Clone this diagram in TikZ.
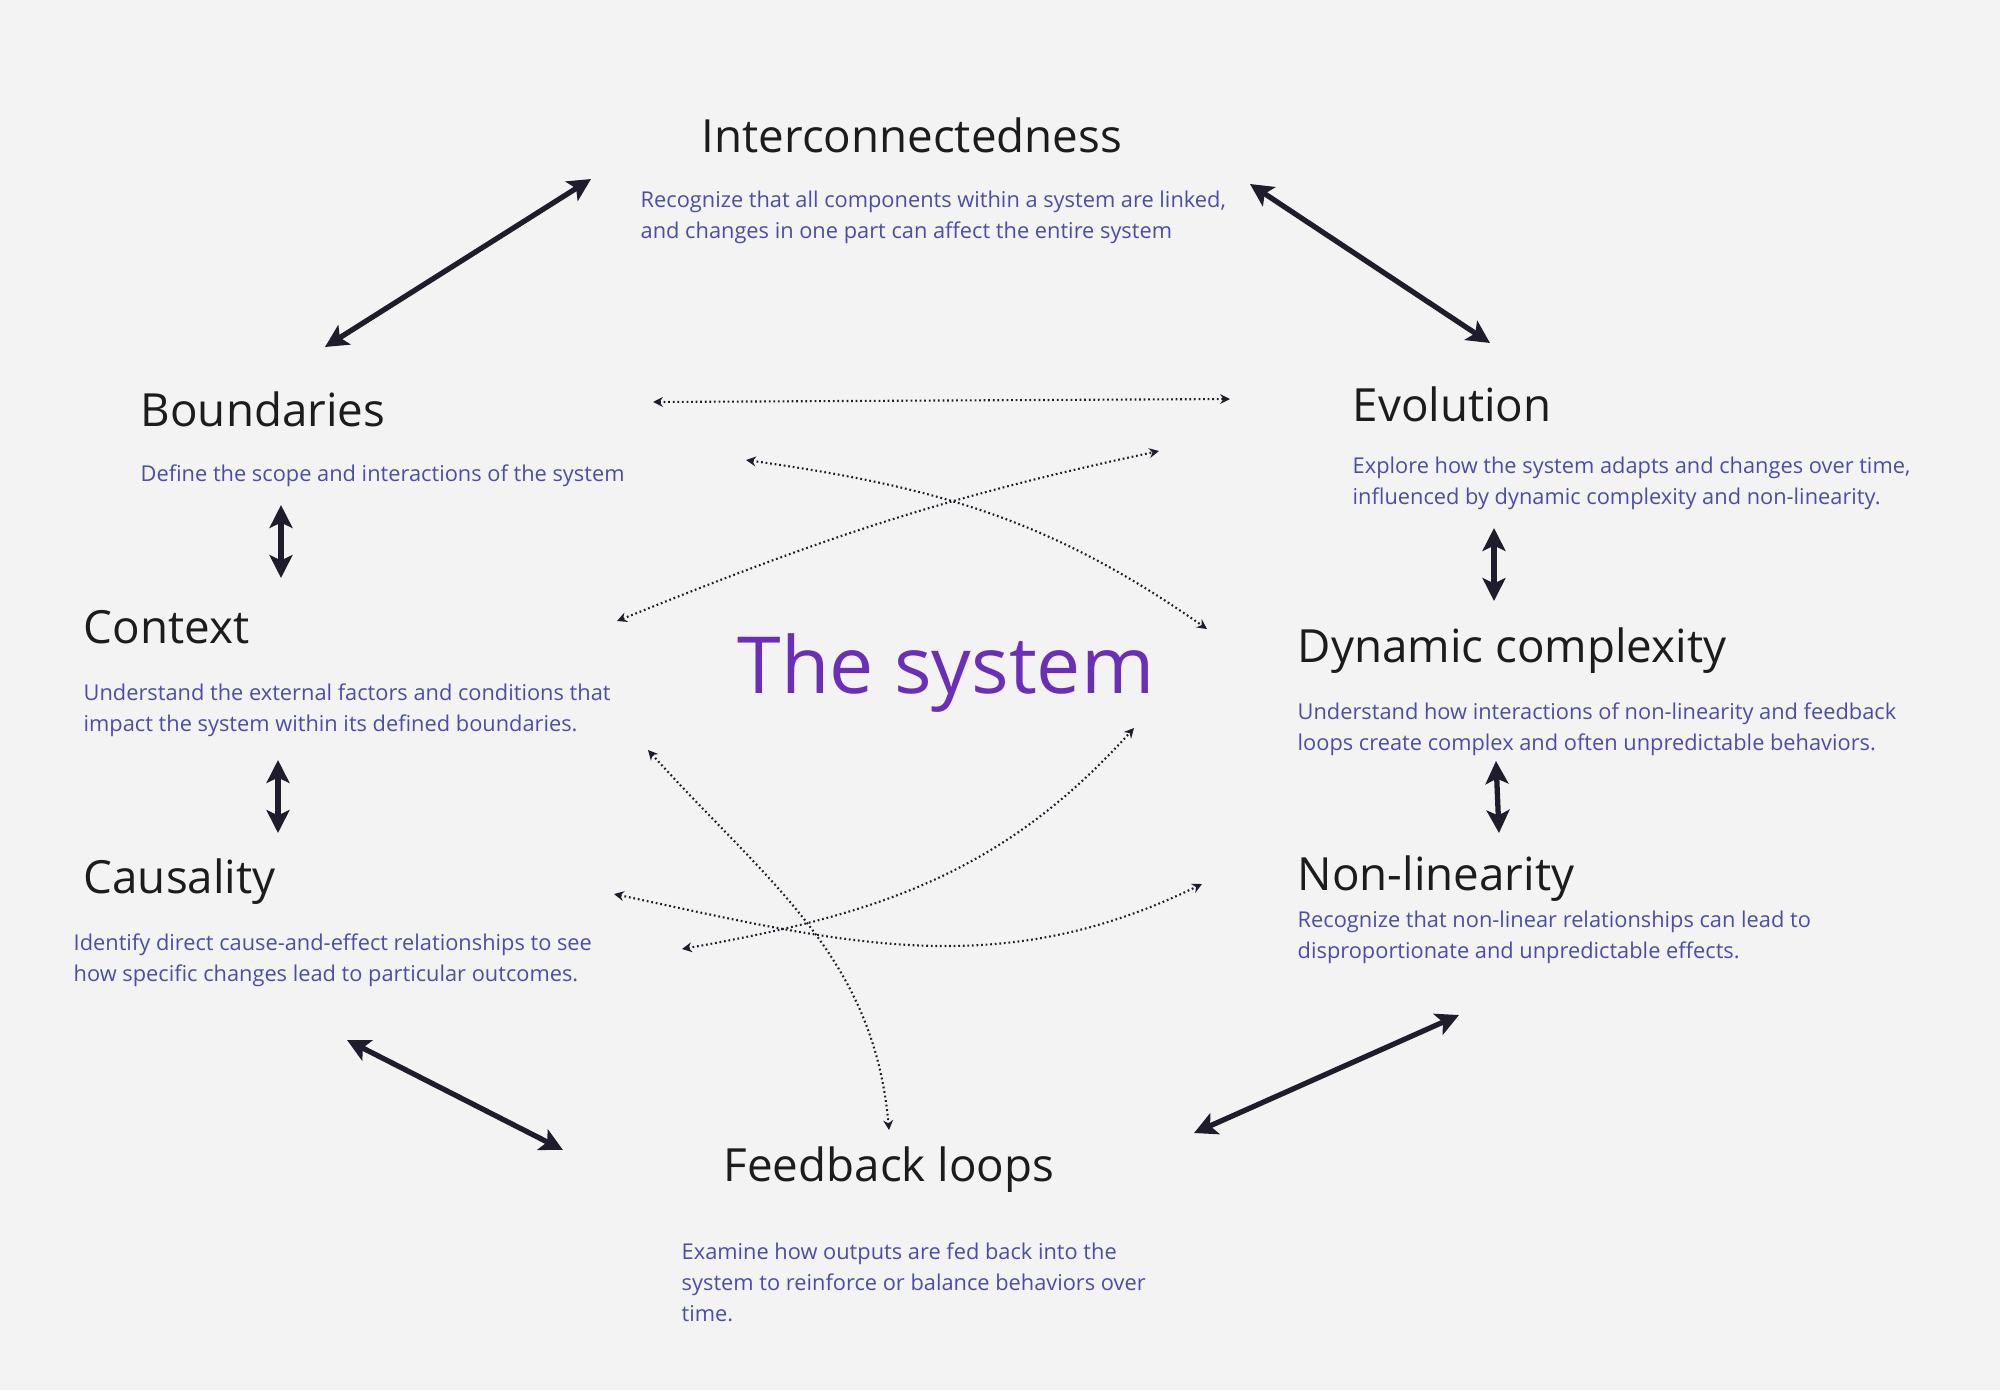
\documentclass[tikz,border=0pt]{standalone}
\usepackage{fontspec}
\setmainfont{Open Sans}
\usetikzlibrary{arrows.meta,positioning}
\definecolor{canvas}{HTML}{F3F3F3}
\definecolor{headink}{HTML}{1C1C1C}
\definecolor{blurbink}{HTML}{4A4EA8}
\definecolor{sysviolet}{HTML}{6A2EB8}
\definecolor{ink}{HTML}{1F1D2B}

\begin{document}
\begin{tikzpicture}[
      x=0.01cm,
      y=-0.01cm,
      heading/.style={anchor=base west, inner sep=0pt, text=headink,
        font=\fontsize{13}{15}\selectfont},
      blurb/.style={anchor=base west, inner sep=0pt, align=left, text=blurbink,
        font=\fontsize{6.2}{8.7}\selectfont},
      link/.style={{Stealth[length=6.5pt,width=6.5pt,inset=1.5pt]}-{Stealth[length=6.5pt,width=6.5pt,inset=1.5pt]},
        line width=1.5pt, draw=ink},
      hint/.style={{Stealth[length=2.8pt,width=2.8pt]}-{Stealth[length=2.8pt,width=2.8pt]},
        line width=0.6pt, draw=ink, dash pattern=on 0.5pt off 0.8pt}
    ]
    \fill[canvas] (0,0) rectangle (2000,1390);

    % the eight aspects (blurbs sit on the baseline of their last line)
    \node[heading] (inter) at (701,152) {Interconnectedness};
    \node[blurb] (inter-txt) at (640,238)
      {Recognize that all components within a system are linked,\\and changes in one part can affect the entire system};

    \node[heading] (bound) at (140,426) {Boundaries};
    \node[blurb] (bound-txt) at (140,481) {Define the scope and interactions of the system};

    \node[heading] (ctx) at (83,643) {Context};
    \node[blurb] (ctx-txt) at (83,731)
      {Understand the external factors and conditions that\\impact the system within its defined boundaries.};

    \node[heading] (cause) at (83,893) {Causality};
    \node[blurb] (cause-txt) at (73,981)
      {Identify direct cause-and-effect relationships to see\\how specific changes lead to particular outcomes.};

    \node[heading] (fback) at (723,1181) {Feedback loops};
    \node[blurb] (fback-txt) at (681,1321)
      {Examine how outputs are fed back into the\\system to reinforce or balance behaviors over\\time.};

    \node[heading] (evo) at (1352,421) {Evolution};
    \node[blurb] (evo-txt) at (1352,504)
      {Explore how the system adapts and changes over time,\\influenced by dynamic complexity and non-linearity.};

    \node[heading] (dyn) at (1297,662) {Dynamic complexity};
    \node[blurb] (dyn-txt) at (1297,750)
      {Understand how interactions of non-linearity and feedback\\loops create complex and often unpredictable behaviors.};

    \node[heading] (nonlin) at (1297,890) {Non-linearity};
    \node[blurb] (nonlin-txt) at (1297,958)
      {Recognize that non-linear relationships can lead to\\disproportionate and unpredictable effects.};

    \node[anchor=base west, inner sep=0pt, text=sysviolet,
      font=\fontsize{22.4}{26}\selectfont] (sys) at (737,693) {The system};

    % arrow ends
    \coordinate (bound-ne) at (325,347);
    \coordinate (inter-sw) at (591,179);
    \coordinate (inter-se) at (1250,184);
    \coordinate (evo-nw) at (1490,343);
    \coordinate (bound-s) at (281,505);
    \coordinate (ctx-n) at (281,578);
    \coordinate (ctx-s) at (278,760);
    \coordinate (cause-n) at (278,833);
    \coordinate (evo-s) at (1494,528);
    \coordinate (dyn-n) at (1494,601);
    \coordinate (dyn-s) at (1496,761);
    \coordinate (nonlin-n) at (1499,833);
    \coordinate (cause-se) at (347,1040);
    \coordinate (fback-nw) at (563,1150);
    \coordinate (fback-ne) at (1194,1133);
    \coordinate (nonlin-sw) at (1459,1015);

    \coordinate (bound-e) at (653,402);
    \coordinate (evo-w) at (1230,399);
    \coordinate (bound-se) at (746,460);
    \coordinate (dyn-nw) at (1207,629);
    \coordinate (ctx-ne) at (617,621);
    \coordinate (evo-sw) at (1159,451);
    \coordinate (ctx-se) at (648,750);
    \coordinate (fback-n) at (889,1130);
    \coordinate (cause-e) at (682,949);
    \coordinate (dyn-sw) at (1134,728);
    \coordinate (cause-ne) at (614,894);
    \coordinate (nonlin-w) at (1202,884);

    % solid links round the ring
    \foreach \a/\b in {bound-ne/inter-sw,inter-se/evo-nw,bound-s/ctx-n,ctx-s/cause-n,
                       evo-s/dyn-n,dyn-s/nonlin-n,cause-se/fback-nw,fback-ne/nonlin-sw}
      \draw[link] (\a) -- (\b);

    % dotted cross links
    \draw[hint] (bound-e) -- (evo-w);
    \draw[hint] (bound-se) to[out=-8, in=145] (dyn-nw);
    \draw[hint] (ctx-ne) to[out=22, in=-168] (evo-sw);
    \draw[hint] (ctx-se) to[out=-48, in=95] (fback-n);
    \draw[hint] (cause-e) to[out=10, in=-132] (dyn-sw);
    \draw[hint] (cause-ne) to[out=-12, in=-154] (nonlin-w);
  \end{tikzpicture}
\end{document}
